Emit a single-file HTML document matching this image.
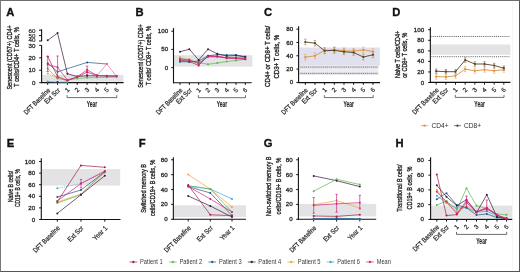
<!DOCTYPE html>
<html><head><meta charset="utf-8"><style>
html,body{margin:0;padding:0;background:#fff;}
body{width:520px;height:272px;overflow:hidden;position:relative;}
.frame{position:absolute;left:0;top:0;width:518px;height:270px;border:1px solid #555;border-top-color:#6e6e6e;border-left-color:#777;}
svg{position:absolute;left:0;top:0;will-change:transform;}
text{font-family:"Liberation Sans",sans-serif;}
</style></head><body>
<svg width="520" height="272" viewBox="0 0 520 272" font-family="Liberation Sans, sans-serif">
<rect x="0" y="0" width="520" height="272" fill="#fff"/>
<text x="6.30" y="15.80" font-size="11.2" text-anchor="start" font-weight="bold" fill="#111" stroke="#111" stroke-width="0.35">A</text>
<text x="0.00" y="0.00" font-size="7.9" text-anchor="middle" font-weight="normal" fill="#262626" textLength="64.3" lengthAdjust="spacingAndGlyphs" transform="translate(12.30,57.45) rotate(-90)" stroke="#262626" stroke-width="0.35">Senescent (CD57+) CD4+</text>
<text x="0.00" y="0.00" font-size="7.9" text-anchor="middle" font-weight="normal" fill="#262626" textLength="59.9" lengthAdjust="spacingAndGlyphs" transform="translate(18.90,56.95) rotate(-90)" stroke="#262626" stroke-width="0.35">T cells/CD4+ T cells, %</text>
<rect x="42.00" y="74.90" width="81.40" height="6.90" fill="#e3e3e6"/>
<line x1="41.60" y1="29.20" x2="41.60" y2="41.20" stroke="#111" stroke-width="1.1" />
<line x1="41.60" y1="45.20" x2="41.60" y2="83.10" stroke="#111" stroke-width="1.1" />
<line x1="41.10" y1="82.60" x2="123.60" y2="82.60" stroke="#111" stroke-width="1.1" />
<line x1="39.00" y1="30.20" x2="41.60" y2="30.20" stroke="#111" stroke-width="1" />
<line x1="39.00" y1="35.60" x2="41.60" y2="35.60" stroke="#111" stroke-width="1" />
<line x1="39.00" y1="41.00" x2="41.60" y2="41.00" stroke="#111" stroke-width="1" />
<line x1="39.20" y1="82.70" x2="41.60" y2="82.70" stroke="#111" stroke-width="1" />
<line x1="39.20" y1="70.25" x2="41.60" y2="70.25" stroke="#111" stroke-width="1" />
<line x1="39.20" y1="57.80" x2="41.60" y2="57.80" stroke="#111" stroke-width="1" />
<line x1="39.20" y1="45.35" x2="41.60" y2="45.35" stroke="#111" stroke-width="1" />
<line x1="47.70" y1="82.60" x2="47.70" y2="84.80" stroke="#111" stroke-width="1" />
<line x1="57.55" y1="82.60" x2="57.55" y2="84.80" stroke="#111" stroke-width="1" />
<line x1="67.40" y1="82.60" x2="67.40" y2="84.80" stroke="#111" stroke-width="1" />
<line x1="77.25" y1="82.60" x2="77.25" y2="84.80" stroke="#111" stroke-width="1" />
<line x1="87.10" y1="82.60" x2="87.10" y2="84.80" stroke="#111" stroke-width="1" />
<line x1="96.95" y1="82.60" x2="96.95" y2="84.80" stroke="#111" stroke-width="1" />
<line x1="106.80" y1="82.60" x2="106.80" y2="84.80" stroke="#111" stroke-width="1" />
<line x1="116.65" y1="82.60" x2="116.65" y2="84.80" stroke="#111" stroke-width="1" />
<text x="35.50" y="84.70" font-size="6.2" text-anchor="end" font-weight="normal" fill="#2a2a2a" stroke="#2a2a2a" stroke-width="0.3">0</text>
<text x="35.50" y="72.25" font-size="6.2" text-anchor="end" font-weight="normal" fill="#2a2a2a" stroke="#2a2a2a" stroke-width="0.3">10</text>
<text x="35.50" y="59.80" font-size="6.2" text-anchor="end" font-weight="normal" fill="#2a2a2a" stroke="#2a2a2a" stroke-width="0.3">20</text>
<text x="35.50" y="47.60" font-size="6.2" text-anchor="end" font-weight="normal" fill="#2a2a2a" stroke="#2a2a2a" stroke-width="0.3">30</text>
<text x="35.50" y="32.60" font-size="6.2" text-anchor="end" font-weight="normal" fill="#2a2a2a" stroke="#2a2a2a" stroke-width="0.2">60</text>
<text x="35.50" y="37.60" font-size="6.2" text-anchor="end" font-weight="normal" fill="#2a2a2a" stroke="#2a2a2a" stroke-width="0.2">50</text>
<text x="35.50" y="42.40" font-size="6.2" text-anchor="end" font-weight="normal" fill="#2a2a2a" stroke="#2a2a2a" stroke-width="0.2">40</text>
<text x="135.40" y="15.80" font-size="11.2" text-anchor="start" font-weight="bold" fill="#111" stroke="#111" stroke-width="0.35">B</text>
<text x="0.00" y="0.00" font-size="7.9" text-anchor="middle" font-weight="normal" fill="#262626" textLength="63.6" lengthAdjust="spacingAndGlyphs" transform="translate(142.60,56.00) rotate(-90)" stroke="#262626" stroke-width="0.35">Senescent (CD57+) CD8+</text>
<text x="0.00" y="0.00" font-size="7.9" text-anchor="middle" font-weight="normal" fill="#262626" textLength="59.4" lengthAdjust="spacingAndGlyphs" transform="translate(151.40,55.60) rotate(-90)" stroke="#262626" stroke-width="0.35">T cells/ CD8+ T cells, %</text>
<rect x="174.10" y="55.20" width="78.30" height="11.40" fill="#e3e3e6"/>
<line x1="173.50" y1="28.10" x2="173.50" y2="83.20" stroke="#111" stroke-width="1.1" />
<line x1="173.00" y1="82.70" x2="251.70" y2="82.70" stroke="#111" stroke-width="1.1" />
<line x1="171.30" y1="67.60" x2="173.50" y2="67.60" stroke="#111" stroke-width="1" />
<line x1="171.30" y1="49.40" x2="173.50" y2="49.40" stroke="#111" stroke-width="1" />
<line x1="171.30" y1="31.20" x2="173.50" y2="31.20" stroke="#111" stroke-width="1" />
<line x1="180.00" y1="82.70" x2="180.00" y2="84.90" stroke="#111" stroke-width="1" />
<line x1="189.33" y1="82.70" x2="189.33" y2="84.90" stroke="#111" stroke-width="1" />
<line x1="198.66" y1="82.70" x2="198.66" y2="84.90" stroke="#111" stroke-width="1" />
<line x1="207.99" y1="82.70" x2="207.99" y2="84.90" stroke="#111" stroke-width="1" />
<line x1="217.32" y1="82.70" x2="217.32" y2="84.90" stroke="#111" stroke-width="1" />
<line x1="226.65" y1="82.70" x2="226.65" y2="84.90" stroke="#111" stroke-width="1" />
<line x1="235.98" y1="82.70" x2="235.98" y2="84.90" stroke="#111" stroke-width="1" />
<line x1="245.31" y1="82.70" x2="245.31" y2="84.90" stroke="#111" stroke-width="1" />
<text x="168.20" y="69.60" font-size="6.2" text-anchor="end" font-weight="normal" fill="#2a2a2a" stroke="#2a2a2a" stroke-width="0.3">0</text>
<text x="168.20" y="51.40" font-size="6.2" text-anchor="end" font-weight="normal" fill="#2a2a2a" stroke="#2a2a2a" stroke-width="0.3">50</text>
<text x="168.20" y="33.20" font-size="6.2" text-anchor="end" font-weight="normal" fill="#2a2a2a" stroke="#2a2a2a" stroke-width="0.3">100</text>
<text x="264.00" y="15.80" font-size="11.2" text-anchor="start" font-weight="bold" fill="#111" stroke="#111" stroke-width="0.35">C</text>
<text x="0.00" y="0.00" font-size="7.9" text-anchor="middle" font-weight="normal" fill="#262626" textLength="61.2" lengthAdjust="spacingAndGlyphs" transform="translate(270.10,56.30) rotate(-90)" stroke="#262626" stroke-width="0.35">CD4+ or CD8+ T cells/</text>
<text x="0.00" y="0.00" font-size="7.9" text-anchor="middle" font-weight="normal" fill="#262626" textLength="43.7" lengthAdjust="spacingAndGlyphs" transform="translate(279.20,56.75) rotate(-90)" stroke="#262626" stroke-width="0.35">CD3+ T cells, %</text>
<rect x="299.30" y="47.50" width="80.50" height="18.30" fill="#e0e0ee"/>
<rect x="299.30" y="65.80" width="79.00" height="9.00" fill="#ececf1"/>
<rect x="299.30" y="66.00" width="79.00" height="2.20" fill="#dedee2"/>
<line x1="300.50" y1="67.10" x2="378.00" y2="67.10" stroke="#666" stroke-width="0.9" stroke-dasharray="0.9 1.0"/>
<rect x="299.30" y="72.30" width="79.00" height="2.20" fill="#dedee2"/>
<line x1="300.50" y1="73.40" x2="378.00" y2="73.40" stroke="#666" stroke-width="0.9" stroke-dasharray="0.9 1.0"/>
<line x1="298.60" y1="26.30" x2="298.60" y2="83.10" stroke="#111" stroke-width="1.1" />
<line x1="298.10" y1="82.60" x2="380.00" y2="82.60" stroke="#111" stroke-width="1.1" />
<line x1="296.40" y1="82.40" x2="298.60" y2="82.40" stroke="#111" stroke-width="1" />
<line x1="296.40" y1="69.10" x2="298.60" y2="69.10" stroke="#111" stroke-width="1" />
<line x1="296.40" y1="55.80" x2="298.60" y2="55.80" stroke="#111" stroke-width="1" />
<line x1="296.40" y1="42.50" x2="298.60" y2="42.50" stroke="#111" stroke-width="1" />
<line x1="296.40" y1="29.20" x2="298.60" y2="29.20" stroke="#111" stroke-width="1" />
<line x1="305.30" y1="82.60" x2="305.30" y2="84.80" stroke="#111" stroke-width="1" />
<line x1="314.97" y1="82.60" x2="314.97" y2="84.80" stroke="#111" stroke-width="1" />
<line x1="324.64" y1="82.60" x2="324.64" y2="84.80" stroke="#111" stroke-width="1" />
<line x1="334.31" y1="82.60" x2="334.31" y2="84.80" stroke="#111" stroke-width="1" />
<line x1="343.98" y1="82.60" x2="343.98" y2="84.80" stroke="#111" stroke-width="1" />
<line x1="353.65" y1="82.60" x2="353.65" y2="84.80" stroke="#111" stroke-width="1" />
<line x1="363.32" y1="82.60" x2="363.32" y2="84.80" stroke="#111" stroke-width="1" />
<line x1="372.99" y1="82.60" x2="372.99" y2="84.80" stroke="#111" stroke-width="1" />
<text x="293.10" y="84.40" font-size="6.2" text-anchor="end" font-weight="normal" fill="#2a2a2a" stroke="#2a2a2a" stroke-width="0.3">0</text>
<text x="293.10" y="71.10" font-size="6.2" text-anchor="end" font-weight="normal" fill="#2a2a2a" stroke="#2a2a2a" stroke-width="0.3">20</text>
<text x="293.10" y="57.80" font-size="6.2" text-anchor="end" font-weight="normal" fill="#2a2a2a" stroke="#2a2a2a" stroke-width="0.3">40</text>
<text x="293.10" y="44.50" font-size="6.2" text-anchor="end" font-weight="normal" fill="#2a2a2a" stroke="#2a2a2a" stroke-width="0.3">60</text>
<text x="293.10" y="31.20" font-size="6.2" text-anchor="end" font-weight="normal" fill="#2a2a2a" stroke="#2a2a2a" stroke-width="0.3">80</text>
<text x="392.30" y="15.80" font-size="11.2" text-anchor="start" font-weight="bold" fill="#111" stroke="#111" stroke-width="0.35">D</text>
<text x="0.00" y="0.00" font-size="7.9" text-anchor="middle" font-weight="normal" fill="#262626" textLength="47.4" lengthAdjust="spacingAndGlyphs" transform="translate(399.70,54.40) rotate(-90)" stroke="#262626" stroke-width="0.35">Naive T cells/CD4+</text>
<text x="0.00" y="0.00" font-size="7.9" text-anchor="middle" font-weight="normal" fill="#262626" textLength="45.0" lengthAdjust="spacingAndGlyphs" transform="translate(407.40,55.30) rotate(-90)" stroke="#262626" stroke-width="0.35">or CD8+ T cells, %</text>
<rect x="430.80" y="44.50" width="79.60" height="10.20" fill="#e3e3e6"/>
<line x1="431.50" y1="36.50" x2="509.80" y2="36.50" stroke="#4a4a4a" stroke-width="0.9" stroke-dasharray="0.9 1.0"/>
<line x1="431.50" y1="56.70" x2="509.80" y2="56.70" stroke="#4a4a4a" stroke-width="0.9" stroke-dasharray="0.9 1.0"/>
<line x1="430.35" y1="27.20" x2="430.35" y2="82.90" stroke="#111" stroke-width="1.1" />
<line x1="429.85" y1="82.40" x2="510.40" y2="82.40" stroke="#111" stroke-width="1.1" />
<line x1="428.15" y1="82.50" x2="430.35" y2="82.50" stroke="#111" stroke-width="1" />
<line x1="428.15" y1="71.95" x2="430.35" y2="71.95" stroke="#111" stroke-width="1" />
<line x1="428.15" y1="61.40" x2="430.35" y2="61.40" stroke="#111" stroke-width="1" />
<line x1="428.15" y1="50.85" x2="430.35" y2="50.85" stroke="#111" stroke-width="1" />
<line x1="428.15" y1="40.30" x2="430.35" y2="40.30" stroke="#111" stroke-width="1" />
<line x1="428.15" y1="29.75" x2="430.35" y2="29.75" stroke="#111" stroke-width="1" />
<line x1="436.20" y1="82.40" x2="436.20" y2="84.60" stroke="#111" stroke-width="1" />
<line x1="445.86" y1="82.40" x2="445.86" y2="84.60" stroke="#111" stroke-width="1" />
<line x1="455.52" y1="82.40" x2="455.52" y2="84.60" stroke="#111" stroke-width="1" />
<line x1="465.18" y1="82.40" x2="465.18" y2="84.60" stroke="#111" stroke-width="1" />
<line x1="474.84" y1="82.40" x2="474.84" y2="84.60" stroke="#111" stroke-width="1" />
<line x1="484.50" y1="82.40" x2="484.50" y2="84.60" stroke="#111" stroke-width="1" />
<line x1="494.16" y1="82.40" x2="494.16" y2="84.60" stroke="#111" stroke-width="1" />
<line x1="503.82" y1="82.40" x2="503.82" y2="84.60" stroke="#111" stroke-width="1" />
<text x="424.20" y="84.50" font-size="6.2" text-anchor="end" font-weight="normal" fill="#2a2a2a" stroke="#2a2a2a" stroke-width="0.3">0</text>
<text x="424.20" y="73.95" font-size="6.2" text-anchor="end" font-weight="normal" fill="#2a2a2a" stroke="#2a2a2a" stroke-width="0.3">20</text>
<text x="424.20" y="63.40" font-size="6.2" text-anchor="end" font-weight="normal" fill="#2a2a2a" stroke="#2a2a2a" stroke-width="0.3">40</text>
<text x="424.20" y="52.85" font-size="6.2" text-anchor="end" font-weight="normal" fill="#2a2a2a" stroke="#2a2a2a" stroke-width="0.3">60</text>
<text x="424.20" y="42.30" font-size="6.2" text-anchor="end" font-weight="normal" fill="#2a2a2a" stroke="#2a2a2a" stroke-width="0.3">80</text>
<text x="424.20" y="31.75" font-size="6.2" text-anchor="end" font-weight="normal" fill="#2a2a2a" stroke="#2a2a2a" stroke-width="0.3">100</text>
<text x="0.00" y="0.00" font-size="6.9" text-anchor="end" font-weight="normal" fill="#2a2a2a" textLength="34.2" lengthAdjust="spacingAndGlyphs" transform="translate(50.70,90.80) rotate(-45)" stroke="#2a2a2a" stroke-width="0.22">DFT Baseline</text>
<text x="0.00" y="0.00" font-size="6.9" text-anchor="end" font-weight="normal" fill="#2a2a2a" textLength="19.2" lengthAdjust="spacingAndGlyphs" transform="translate(60.55,90.80) rotate(-45)" stroke="#2a2a2a" stroke-width="0.22">Ext Scr</text>
<text x="0.00" y="0.00" font-size="6.4" text-anchor="middle" font-weight="normal" fill="#2a2a2a" transform="translate(68.70,91.60) rotate(-45)" stroke="#2a2a2a" stroke-width="0.2">1</text>
<text x="0.00" y="0.00" font-size="6.4" text-anchor="middle" font-weight="normal" fill="#2a2a2a" transform="translate(78.55,91.60) rotate(-45)" stroke="#2a2a2a" stroke-width="0.2">2</text>
<text x="0.00" y="0.00" font-size="6.4" text-anchor="middle" font-weight="normal" fill="#2a2a2a" transform="translate(88.40,91.60) rotate(-45)" stroke="#2a2a2a" stroke-width="0.2">3</text>
<text x="0.00" y="0.00" font-size="6.4" text-anchor="middle" font-weight="normal" fill="#2a2a2a" transform="translate(98.25,91.60) rotate(-45)" stroke="#2a2a2a" stroke-width="0.2">4</text>
<text x="0.00" y="0.00" font-size="6.4" text-anchor="middle" font-weight="normal" fill="#2a2a2a" transform="translate(108.10,91.60) rotate(-45)" stroke="#2a2a2a" stroke-width="0.2">5</text>
<text x="0.00" y="0.00" font-size="6.4" text-anchor="middle" font-weight="normal" fill="#2a2a2a" transform="translate(117.95,91.60) rotate(-45)" stroke="#2a2a2a" stroke-width="0.2">6</text>
<polyline points="67.10,95.10 67.10,97.60 116.85,97.60 116.85,95.10" fill="none" stroke="#4a4a4a" stroke-width="0.8" />
<text x="91.98" y="107.00" font-size="8.4" text-anchor="middle" font-weight="bold" fill="#2a2a2a" textLength="10.6" lengthAdjust="spacingAndGlyphs" stroke="#2a2a2a" stroke-width="0.1">Year</text>
<text x="0.00" y="0.00" font-size="6.9" text-anchor="end" font-weight="normal" fill="#2a2a2a" textLength="34.2" lengthAdjust="spacingAndGlyphs" transform="translate(183.00,90.90) rotate(-45)" stroke="#2a2a2a" stroke-width="0.22">DFT Baseline</text>
<text x="0.00" y="0.00" font-size="6.9" text-anchor="end" font-weight="normal" fill="#2a2a2a" textLength="19.2" lengthAdjust="spacingAndGlyphs" transform="translate(192.33,90.90) rotate(-45)" stroke="#2a2a2a" stroke-width="0.22">Ext Scr</text>
<text x="0.00" y="0.00" font-size="6.4" text-anchor="middle" font-weight="normal" fill="#2a2a2a" transform="translate(199.96,91.70) rotate(-45)" stroke="#2a2a2a" stroke-width="0.2">1</text>
<text x="0.00" y="0.00" font-size="6.4" text-anchor="middle" font-weight="normal" fill="#2a2a2a" transform="translate(209.29,91.70) rotate(-45)" stroke="#2a2a2a" stroke-width="0.2">2</text>
<text x="0.00" y="0.00" font-size="6.4" text-anchor="middle" font-weight="normal" fill="#2a2a2a" transform="translate(218.62,91.70) rotate(-45)" stroke="#2a2a2a" stroke-width="0.2">3</text>
<text x="0.00" y="0.00" font-size="6.4" text-anchor="middle" font-weight="normal" fill="#2a2a2a" transform="translate(227.95,91.70) rotate(-45)" stroke="#2a2a2a" stroke-width="0.2">4</text>
<text x="0.00" y="0.00" font-size="6.4" text-anchor="middle" font-weight="normal" fill="#2a2a2a" transform="translate(237.28,91.70) rotate(-45)" stroke="#2a2a2a" stroke-width="0.2">5</text>
<text x="0.00" y="0.00" font-size="6.4" text-anchor="middle" font-weight="normal" fill="#2a2a2a" transform="translate(246.61,91.70) rotate(-45)" stroke="#2a2a2a" stroke-width="0.2">6</text>
<polyline points="198.36,95.20 198.36,97.70 245.51,97.70 245.51,95.20" fill="none" stroke="#4a4a4a" stroke-width="0.8" />
<text x="221.94" y="107.10" font-size="8.4" text-anchor="middle" font-weight="bold" fill="#2a2a2a" textLength="10.6" lengthAdjust="spacingAndGlyphs" stroke="#2a2a2a" stroke-width="0.1">Year</text>
<text x="0.00" y="0.00" font-size="6.9" text-anchor="end" font-weight="normal" fill="#2a2a2a" textLength="34.2" lengthAdjust="spacingAndGlyphs" transform="translate(308.30,90.80) rotate(-45)" stroke="#2a2a2a" stroke-width="0.22">DFT Baseline</text>
<text x="0.00" y="0.00" font-size="6.9" text-anchor="end" font-weight="normal" fill="#2a2a2a" textLength="19.2" lengthAdjust="spacingAndGlyphs" transform="translate(317.97,90.80) rotate(-45)" stroke="#2a2a2a" stroke-width="0.22">Ext Scr</text>
<text x="0.00" y="0.00" font-size="6.4" text-anchor="middle" font-weight="normal" fill="#2a2a2a" transform="translate(325.94,91.60) rotate(-45)" stroke="#2a2a2a" stroke-width="0.2">1</text>
<text x="0.00" y="0.00" font-size="6.4" text-anchor="middle" font-weight="normal" fill="#2a2a2a" transform="translate(335.61,91.60) rotate(-45)" stroke="#2a2a2a" stroke-width="0.2">2</text>
<text x="0.00" y="0.00" font-size="6.4" text-anchor="middle" font-weight="normal" fill="#2a2a2a" transform="translate(345.28,91.60) rotate(-45)" stroke="#2a2a2a" stroke-width="0.2">3</text>
<text x="0.00" y="0.00" font-size="6.4" text-anchor="middle" font-weight="normal" fill="#2a2a2a" transform="translate(354.95,91.60) rotate(-45)" stroke="#2a2a2a" stroke-width="0.2">4</text>
<text x="0.00" y="0.00" font-size="6.4" text-anchor="middle" font-weight="normal" fill="#2a2a2a" transform="translate(364.62,91.60) rotate(-45)" stroke="#2a2a2a" stroke-width="0.2">5</text>
<text x="0.00" y="0.00" font-size="6.4" text-anchor="middle" font-weight="normal" fill="#2a2a2a" transform="translate(374.29,91.60) rotate(-45)" stroke="#2a2a2a" stroke-width="0.2">6</text>
<polyline points="324.34,95.10 324.34,97.60 373.19,97.60 373.19,95.10" fill="none" stroke="#4a4a4a" stroke-width="0.8" />
<text x="348.76" y="107.00" font-size="8.4" text-anchor="middle" font-weight="bold" fill="#2a2a2a" textLength="10.6" lengthAdjust="spacingAndGlyphs" stroke="#2a2a2a" stroke-width="0.1">Year</text>
<text x="0.00" y="0.00" font-size="6.9" text-anchor="end" font-weight="normal" fill="#2a2a2a" textLength="34.2" lengthAdjust="spacingAndGlyphs" transform="translate(439.20,90.60) rotate(-45)" stroke="#2a2a2a" stroke-width="0.22">DFT Baseline</text>
<text x="0.00" y="0.00" font-size="6.9" text-anchor="end" font-weight="normal" fill="#2a2a2a" textLength="19.2" lengthAdjust="spacingAndGlyphs" transform="translate(448.86,90.60) rotate(-45)" stroke="#2a2a2a" stroke-width="0.22">Ext Scr</text>
<text x="0.00" y="0.00" font-size="6.4" text-anchor="middle" font-weight="normal" fill="#2a2a2a" transform="translate(456.82,91.40) rotate(-45)" stroke="#2a2a2a" stroke-width="0.2">1</text>
<text x="0.00" y="0.00" font-size="6.4" text-anchor="middle" font-weight="normal" fill="#2a2a2a" transform="translate(466.48,91.40) rotate(-45)" stroke="#2a2a2a" stroke-width="0.2">2</text>
<text x="0.00" y="0.00" font-size="6.4" text-anchor="middle" font-weight="normal" fill="#2a2a2a" transform="translate(476.14,91.40) rotate(-45)" stroke="#2a2a2a" stroke-width="0.2">3</text>
<text x="0.00" y="0.00" font-size="6.4" text-anchor="middle" font-weight="normal" fill="#2a2a2a" transform="translate(485.80,91.40) rotate(-45)" stroke="#2a2a2a" stroke-width="0.2">4</text>
<text x="0.00" y="0.00" font-size="6.4" text-anchor="middle" font-weight="normal" fill="#2a2a2a" transform="translate(495.46,91.40) rotate(-45)" stroke="#2a2a2a" stroke-width="0.2">5</text>
<text x="0.00" y="0.00" font-size="6.4" text-anchor="middle" font-weight="normal" fill="#2a2a2a" transform="translate(505.12,91.40) rotate(-45)" stroke="#2a2a2a" stroke-width="0.2">6</text>
<polyline points="455.22,94.90 455.22,97.40 504.02,97.40 504.02,94.90" fill="none" stroke="#4a4a4a" stroke-width="0.8" />
<text x="479.62" y="106.80" font-size="8.4" text-anchor="middle" font-weight="bold" fill="#2a2a2a" textLength="10.6" lengthAdjust="spacingAndGlyphs" stroke="#2a2a2a" stroke-width="0.1">Year</text>
<text x="6.80" y="146.80" font-size="11.2" text-anchor="start" font-weight="bold" fill="#111" stroke="#111" stroke-width="0.35">E</text>
<text x="0.00" y="0.00" font-size="7.9" text-anchor="middle" font-weight="normal" fill="#262626" textLength="31.5" lengthAdjust="spacingAndGlyphs" transform="translate(13.10,186.45) rotate(-90)" stroke="#262626" stroke-width="0.35">Naive B cells/</text>
<text x="0.00" y="0.00" font-size="7.9" text-anchor="middle" font-weight="normal" fill="#262626" textLength="37.9" lengthAdjust="spacingAndGlyphs" transform="translate(20.20,188.05) rotate(-90)" stroke="#262626" stroke-width="0.35">CD19+ B cells, %</text>
<rect x="41.80" y="169.10" width="78.40" height="16.50" fill="#e3e3e6"/>
<line x1="41.30" y1="158.20" x2="41.30" y2="220.00" stroke="#111" stroke-width="1.1" />
<line x1="40.80" y1="219.50" x2="120.50" y2="219.50" stroke="#111" stroke-width="1.1" />
<line x1="39.10" y1="219.50" x2="41.30" y2="219.50" stroke="#111" stroke-width="1" />
<line x1="39.10" y1="207.90" x2="41.30" y2="207.90" stroke="#111" stroke-width="1" />
<line x1="39.10" y1="196.30" x2="41.30" y2="196.30" stroke="#111" stroke-width="1" />
<line x1="39.10" y1="184.70" x2="41.30" y2="184.70" stroke="#111" stroke-width="1" />
<line x1="39.10" y1="173.10" x2="41.30" y2="173.10" stroke="#111" stroke-width="1" />
<line x1="39.10" y1="161.50" x2="41.30" y2="161.50" stroke="#111" stroke-width="1" />
<line x1="57.30" y1="219.50" x2="57.30" y2="221.70" stroke="#111" stroke-width="1" />
<line x1="81.00" y1="219.50" x2="81.00" y2="221.70" stroke="#111" stroke-width="1" />
<line x1="104.80" y1="219.50" x2="104.80" y2="221.70" stroke="#111" stroke-width="1" />
<text x="35.10" y="221.50" font-size="6.2" text-anchor="end" font-weight="normal" fill="#2a2a2a" stroke="#2a2a2a" stroke-width="0.3">0</text>
<text x="35.10" y="209.90" font-size="6.2" text-anchor="end" font-weight="normal" fill="#2a2a2a" stroke="#2a2a2a" stroke-width="0.3">20</text>
<text x="35.10" y="198.30" font-size="6.2" text-anchor="end" font-weight="normal" fill="#2a2a2a" stroke="#2a2a2a" stroke-width="0.3">40</text>
<text x="35.10" y="186.70" font-size="6.2" text-anchor="end" font-weight="normal" fill="#2a2a2a" stroke="#2a2a2a" stroke-width="0.3">60</text>
<text x="35.10" y="175.10" font-size="6.2" text-anchor="end" font-weight="normal" fill="#2a2a2a" stroke="#2a2a2a" stroke-width="0.3">80</text>
<text x="35.10" y="163.50" font-size="6.2" text-anchor="end" font-weight="normal" fill="#2a2a2a" stroke="#2a2a2a" stroke-width="0.3">100</text>
<text x="138.80" y="146.80" font-size="11.2" text-anchor="start" font-weight="bold" fill="#111" stroke="#111" stroke-width="0.35">F</text>
<text x="0.00" y="0.00" font-size="7.9" text-anchor="middle" font-weight="normal" fill="#262626" textLength="48.8" lengthAdjust="spacingAndGlyphs" transform="translate(145.80,188.40) rotate(-90)" stroke="#262626" stroke-width="0.35">Switched memory B</text>
<text x="0.00" y="0.00" font-size="7.9" text-anchor="middle" font-weight="normal" fill="#262626" textLength="56.3" lengthAdjust="spacingAndGlyphs" transform="translate(155.30,187.95) rotate(-90)" stroke="#262626" stroke-width="0.35">cells/CD19+ B cells, %</text>
<rect x="173.90" y="205.30" width="72.10" height="11.70" fill="#e3e3e6"/>
<line x1="173.35" y1="157.30" x2="173.35" y2="219.80" stroke="#111" stroke-width="1.1" />
<line x1="172.85" y1="219.30" x2="246.00" y2="219.30" stroke="#111" stroke-width="1.1" />
<line x1="171.15" y1="219.30" x2="173.35" y2="219.30" stroke="#111" stroke-width="1" />
<line x1="171.15" y1="204.42" x2="173.35" y2="204.42" stroke="#111" stroke-width="1" />
<line x1="171.15" y1="189.54" x2="173.35" y2="189.54" stroke="#111" stroke-width="1" />
<line x1="171.15" y1="174.66" x2="173.35" y2="174.66" stroke="#111" stroke-width="1" />
<line x1="171.15" y1="159.78" x2="173.35" y2="159.78" stroke="#111" stroke-width="1" />
<line x1="188.20" y1="219.30" x2="188.20" y2="221.50" stroke="#111" stroke-width="1" />
<line x1="210.30" y1="219.30" x2="210.30" y2="221.50" stroke="#111" stroke-width="1" />
<line x1="232.00" y1="219.30" x2="232.00" y2="221.50" stroke="#111" stroke-width="1" />
<text x="167.70" y="221.30" font-size="6.2" text-anchor="end" font-weight="normal" fill="#2a2a2a" stroke="#2a2a2a" stroke-width="0.3">0</text>
<text x="167.70" y="206.42" font-size="6.2" text-anchor="end" font-weight="normal" fill="#2a2a2a" stroke="#2a2a2a" stroke-width="0.3">20</text>
<text x="167.70" y="191.54" font-size="6.2" text-anchor="end" font-weight="normal" fill="#2a2a2a" stroke="#2a2a2a" stroke-width="0.3">40</text>
<text x="167.70" y="176.66" font-size="6.2" text-anchor="end" font-weight="normal" fill="#2a2a2a" stroke="#2a2a2a" stroke-width="0.3">60</text>
<text x="167.70" y="161.78" font-size="6.2" text-anchor="end" font-weight="normal" fill="#2a2a2a" stroke="#2a2a2a" stroke-width="0.3">80</text>
<text x="263.70" y="146.80" font-size="11.2" text-anchor="start" font-weight="bold" fill="#111" stroke="#111" stroke-width="0.35">G</text>
<text x="0.00" y="0.00" font-size="7.9" text-anchor="middle" font-weight="normal" fill="#262626" textLength="59.5" lengthAdjust="spacingAndGlyphs" transform="translate(270.90,186.35) rotate(-90)" stroke="#262626" stroke-width="0.35">Non-switched memory B</text>
<text x="0.00" y="0.00" font-size="7.9" text-anchor="middle" font-weight="normal" fill="#262626" textLength="56.7" lengthAdjust="spacingAndGlyphs" transform="translate(280.70,186.05) rotate(-90)" stroke="#262626" stroke-width="0.35">cells/CD19+ B cells, %</text>
<rect x="298.90" y="203.90" width="77.30" height="12.60" fill="#e3e3e6"/>
<line x1="298.40" y1="157.30" x2="298.40" y2="219.80" stroke="#111" stroke-width="1.1" />
<line x1="297.90" y1="219.30" x2="376.20" y2="219.30" stroke="#111" stroke-width="1.1" />
<line x1="296.20" y1="219.30" x2="298.40" y2="219.30" stroke="#111" stroke-width="1" />
<line x1="296.20" y1="204.42" x2="298.40" y2="204.42" stroke="#111" stroke-width="1" />
<line x1="296.20" y1="189.54" x2="298.40" y2="189.54" stroke="#111" stroke-width="1" />
<line x1="296.20" y1="174.66" x2="298.40" y2="174.66" stroke="#111" stroke-width="1" />
<line x1="296.20" y1="159.78" x2="298.40" y2="159.78" stroke="#111" stroke-width="1" />
<line x1="313.70" y1="219.30" x2="313.70" y2="221.50" stroke="#111" stroke-width="1" />
<line x1="336.60" y1="219.30" x2="336.60" y2="221.50" stroke="#111" stroke-width="1" />
<line x1="359.80" y1="219.30" x2="359.80" y2="221.50" stroke="#111" stroke-width="1" />
<text x="292.70" y="221.30" font-size="6.2" text-anchor="end" font-weight="normal" fill="#2a2a2a" stroke="#2a2a2a" stroke-width="0.3">0</text>
<text x="292.70" y="206.42" font-size="6.2" text-anchor="end" font-weight="normal" fill="#2a2a2a" stroke="#2a2a2a" stroke-width="0.3">20</text>
<text x="292.70" y="191.54" font-size="6.2" text-anchor="end" font-weight="normal" fill="#2a2a2a" stroke="#2a2a2a" stroke-width="0.3">40</text>
<text x="292.70" y="176.66" font-size="6.2" text-anchor="end" font-weight="normal" fill="#2a2a2a" stroke="#2a2a2a" stroke-width="0.3">60</text>
<text x="292.70" y="161.78" font-size="6.2" text-anchor="end" font-weight="normal" fill="#2a2a2a" stroke="#2a2a2a" stroke-width="0.3">80</text>
<text x="395.40" y="146.80" font-size="11.2" text-anchor="start" font-weight="bold" fill="#111" stroke="#111" stroke-width="0.35">H</text>
<text x="0.00" y="0.00" font-size="7.9" text-anchor="middle" font-weight="normal" fill="#262626" textLength="47.2" lengthAdjust="spacingAndGlyphs" transform="translate(402.40,188.10) rotate(-90)" stroke="#262626" stroke-width="0.35">Transitional B cells/</text>
<text x="0.00" y="0.00" font-size="7.9" text-anchor="middle" font-weight="normal" fill="#262626" textLength="42.8" lengthAdjust="spacingAndGlyphs" transform="translate(411.70,188.10) rotate(-90)" stroke="#262626" stroke-width="0.35">CD19+ B cells, %</text>
<rect x="431.10" y="205.60" width="81.30" height="12.10" fill="#e3e3e6"/>
<line x1="430.60" y1="157.30" x2="430.60" y2="219.90" stroke="#111" stroke-width="1.1" />
<line x1="430.10" y1="219.40" x2="513.00" y2="219.40" stroke="#111" stroke-width="1.1" />
<line x1="428.40" y1="219.40" x2="430.60" y2="219.40" stroke="#111" stroke-width="1" />
<line x1="428.40" y1="204.65" x2="430.60" y2="204.65" stroke="#111" stroke-width="1" />
<line x1="428.40" y1="189.90" x2="430.60" y2="189.90" stroke="#111" stroke-width="1" />
<line x1="428.40" y1="175.15" x2="430.60" y2="175.15" stroke="#111" stroke-width="1" />
<line x1="428.40" y1="160.40" x2="430.60" y2="160.40" stroke="#111" stroke-width="1" />
<line x1="436.80" y1="219.40" x2="436.80" y2="221.60" stroke="#111" stroke-width="1" />
<line x1="446.50" y1="219.40" x2="446.50" y2="221.60" stroke="#111" stroke-width="1" />
<line x1="456.80" y1="219.40" x2="456.80" y2="221.60" stroke="#111" stroke-width="1" />
<line x1="466.50" y1="219.40" x2="466.50" y2="221.60" stroke="#111" stroke-width="1" />
<line x1="476.50" y1="219.40" x2="476.50" y2="221.60" stroke="#111" stroke-width="1" />
<line x1="486.80" y1="219.40" x2="486.80" y2="221.60" stroke="#111" stroke-width="1" />
<line x1="497.00" y1="219.40" x2="497.00" y2="221.60" stroke="#111" stroke-width="1" />
<line x1="506.50" y1="219.40" x2="506.50" y2="221.60" stroke="#111" stroke-width="1" />
<text x="423.90" y="221.40" font-size="6.2" text-anchor="end" font-weight="normal" fill="#2a2a2a" stroke="#2a2a2a" stroke-width="0.3">0</text>
<text x="423.90" y="206.65" font-size="6.2" text-anchor="end" font-weight="normal" fill="#2a2a2a" stroke="#2a2a2a" stroke-width="0.3">20</text>
<text x="423.90" y="191.90" font-size="6.2" text-anchor="end" font-weight="normal" fill="#2a2a2a" stroke="#2a2a2a" stroke-width="0.3">40</text>
<text x="423.90" y="177.15" font-size="6.2" text-anchor="end" font-weight="normal" fill="#2a2a2a" stroke="#2a2a2a" stroke-width="0.3">60</text>
<text x="423.90" y="162.40" font-size="6.2" text-anchor="end" font-weight="normal" fill="#2a2a2a" stroke="#2a2a2a" stroke-width="0.3">80</text>
<text x="0.00" y="0.00" font-size="6.9" text-anchor="end" font-weight="normal" fill="#2a2a2a" textLength="34.6" lengthAdjust="spacingAndGlyphs" transform="translate(60.30,228.60) rotate(-45)" stroke="#2a2a2a" stroke-width="0.22">DFT Baseline</text>
<text x="0.00" y="0.00" font-size="6.9" text-anchor="end" font-weight="normal" fill="#2a2a2a" textLength="19.4" lengthAdjust="spacingAndGlyphs" transform="translate(84.00,228.60) rotate(-45)" stroke="#2a2a2a" stroke-width="0.22">Ext Scr</text>
<text x="0.00" y="0.00" font-size="6.9" text-anchor="end" font-weight="normal" fill="#2a2a2a" textLength="17.5" lengthAdjust="spacingAndGlyphs" transform="translate(107.80,228.60) rotate(-45)" stroke="#2a2a2a" stroke-width="0.22">Year 1</text>
<text x="0.00" y="0.00" font-size="6.9" text-anchor="end" font-weight="normal" fill="#2a2a2a" textLength="34.6" lengthAdjust="spacingAndGlyphs" transform="translate(191.20,228.40) rotate(-45)" stroke="#2a2a2a" stroke-width="0.22">DFT Baseline</text>
<text x="0.00" y="0.00" font-size="6.9" text-anchor="end" font-weight="normal" fill="#2a2a2a" textLength="19.4" lengthAdjust="spacingAndGlyphs" transform="translate(213.30,228.40) rotate(-45)" stroke="#2a2a2a" stroke-width="0.22">Ext Scr</text>
<text x="0.00" y="0.00" font-size="6.9" text-anchor="end" font-weight="normal" fill="#2a2a2a" textLength="17.5" lengthAdjust="spacingAndGlyphs" transform="translate(235.00,228.40) rotate(-45)" stroke="#2a2a2a" stroke-width="0.22">Year 1</text>
<text x="0.00" y="0.00" font-size="6.9" text-anchor="end" font-weight="normal" fill="#2a2a2a" textLength="34.6" lengthAdjust="spacingAndGlyphs" transform="translate(316.70,228.40) rotate(-45)" stroke="#2a2a2a" stroke-width="0.22">DFT Baseline</text>
<text x="0.00" y="0.00" font-size="6.9" text-anchor="end" font-weight="normal" fill="#2a2a2a" textLength="19.4" lengthAdjust="spacingAndGlyphs" transform="translate(339.60,228.40) rotate(-45)" stroke="#2a2a2a" stroke-width="0.22">Ext Scr</text>
<text x="0.00" y="0.00" font-size="6.9" text-anchor="end" font-weight="normal" fill="#2a2a2a" textLength="17.5" lengthAdjust="spacingAndGlyphs" transform="translate(362.80,228.40) rotate(-45)" stroke="#2a2a2a" stroke-width="0.22">Year 1</text>
<text x="0.00" y="0.00" font-size="6.9" text-anchor="end" font-weight="normal" fill="#2a2a2a" textLength="34.2" lengthAdjust="spacingAndGlyphs" transform="translate(439.80,227.60) rotate(-45)" stroke="#2a2a2a" stroke-width="0.22">DFT Baseline</text>
<text x="0.00" y="0.00" font-size="6.9" text-anchor="end" font-weight="normal" fill="#2a2a2a" textLength="19.2" lengthAdjust="spacingAndGlyphs" transform="translate(449.50,227.60) rotate(-45)" stroke="#2a2a2a" stroke-width="0.22">Ext Scr</text>
<text x="0.00" y="0.00" font-size="6.4" text-anchor="middle" font-weight="normal" fill="#2a2a2a" transform="translate(458.10,228.40) rotate(-45)" stroke="#2a2a2a" stroke-width="0.2">1</text>
<text x="0.00" y="0.00" font-size="6.4" text-anchor="middle" font-weight="normal" fill="#2a2a2a" transform="translate(467.80,228.40) rotate(-45)" stroke="#2a2a2a" stroke-width="0.2">2</text>
<text x="0.00" y="0.00" font-size="6.4" text-anchor="middle" font-weight="normal" fill="#2a2a2a" transform="translate(477.80,228.40) rotate(-45)" stroke="#2a2a2a" stroke-width="0.2">3</text>
<text x="0.00" y="0.00" font-size="6.4" text-anchor="middle" font-weight="normal" fill="#2a2a2a" transform="translate(488.10,228.40) rotate(-45)" stroke="#2a2a2a" stroke-width="0.2">4</text>
<text x="0.00" y="0.00" font-size="6.4" text-anchor="middle" font-weight="normal" fill="#2a2a2a" transform="translate(498.30,228.40) rotate(-45)" stroke="#2a2a2a" stroke-width="0.2">5</text>
<text x="0.00" y="0.00" font-size="6.4" text-anchor="middle" font-weight="normal" fill="#2a2a2a" transform="translate(507.80,228.40) rotate(-45)" stroke="#2a2a2a" stroke-width="0.2">6</text>
<polyline points="456.50,231.90 456.50,234.40 506.70,234.40 506.70,231.90" fill="none" stroke="#4a4a4a" stroke-width="0.8" />
<text x="481.60" y="243.80" font-size="8.4" text-anchor="middle" font-weight="bold" fill="#2a2a2a" textLength="10.6" lengthAdjust="spacingAndGlyphs" stroke="#2a2a2a" stroke-width="0.1">Year</text>
<line x1="129.50" y1="262.00" x2="137.20" y2="262.00" stroke="#a81a45" stroke-width="0.7" />
<circle cx="133.35" cy="262.00" r="1.15" fill="#a81a45"/>
<text x="140.00" y="264.20" font-size="6.8" text-anchor="start" font-weight="normal" fill="#3a3a3a" textLength="22.8" lengthAdjust="spacingAndGlyphs">Patient 1</text>
<line x1="168.95" y1="262.00" x2="176.65" y2="262.00" stroke="#5cb84a" stroke-width="0.7" />
<circle cx="172.80" cy="262.00" r="1.15" fill="#5cb84a"/>
<text x="179.45" y="264.20" font-size="6.8" text-anchor="start" font-weight="normal" fill="#3a3a3a" textLength="22.8" lengthAdjust="spacingAndGlyphs">Patient 2</text>
<line x1="208.40" y1="262.00" x2="216.10" y2="262.00" stroke="#235a80" stroke-width="0.7" />
<circle cx="212.25" cy="262.00" r="1.15" fill="#235a80"/>
<text x="218.90" y="264.20" font-size="6.8" text-anchor="start" font-weight="normal" fill="#3a3a3a" textLength="22.8" lengthAdjust="spacingAndGlyphs">Patient 3</text>
<line x1="247.85" y1="262.00" x2="255.55" y2="262.00" stroke="#3a1540" stroke-width="0.7" />
<circle cx="251.70" cy="262.00" r="1.15" fill="#3a1540"/>
<text x="258.35" y="264.20" font-size="6.8" text-anchor="start" font-weight="normal" fill="#3a3a3a" textLength="22.8" lengthAdjust="spacingAndGlyphs">Patient 4</text>
<line x1="287.30" y1="262.00" x2="295.00" y2="262.00" stroke="#f2a33a" stroke-width="0.7" />
<circle cx="291.15" cy="262.00" r="1.15" fill="#f2a33a"/>
<text x="297.80" y="264.20" font-size="6.8" text-anchor="start" font-weight="normal" fill="#3a3a3a" textLength="22.8" lengthAdjust="spacingAndGlyphs">Patient 5</text>
<line x1="326.75" y1="262.00" x2="334.45" y2="262.00" stroke="#3aa6dc" stroke-width="0.7" />
<circle cx="330.60" cy="262.00" r="1.15" fill="#3aa6dc"/>
<text x="337.25" y="264.20" font-size="6.8" text-anchor="start" font-weight="normal" fill="#3a3a3a" textLength="22.8" lengthAdjust="spacingAndGlyphs">Patient 6</text>
<line x1="366.20" y1="262.00" x2="373.90" y2="262.00" stroke="#d81e7e" stroke-width="0.7" />
<circle cx="370.05" cy="262.00" r="1.15" fill="#d81e7e"/>
<text x="376.70" y="264.20" font-size="6.8" text-anchor="start" font-weight="normal" fill="#3a3a3a" textLength="14.2" lengthAdjust="spacingAndGlyphs">Mean</text>
<line x1="421.00" y1="125.70" x2="428.00" y2="125.70" stroke="#dc923f" stroke-width="0.7" />
<circle cx="424.50" cy="125.70" r="1.15" fill="#dc923f"/>
<text x="431.60" y="127.80" font-size="6.6" text-anchor="start" font-weight="normal" fill="#2a2a2a" textLength="17" lengthAdjust="spacingAndGlyphs">CD4+</text>
<line x1="454.00" y1="125.70" x2="461.00" y2="125.70" stroke="#55422a" stroke-width="0.7" />
<circle cx="457.50" cy="125.70" r="1.15" fill="#55422a"/>
<text x="464.00" y="127.80" font-size="6.6" text-anchor="start" font-weight="normal" fill="#2a2a2a" textLength="17" lengthAdjust="spacingAndGlyphs">CD8+</text>
<polyline points="47.70,81.60 57.55,82.20 67.40,82.20" fill="none" stroke="#3aa6dc" stroke-width="0.7" />
<circle cx="47.70" cy="81.60" r="1.0" fill="#3aa6dc"/>
<circle cx="57.55" cy="82.20" r="1.0" fill="#3aa6dc"/>
<circle cx="67.40" cy="82.20" r="1.0" fill="#3aa6dc"/>
<polyline points="47.70,73.50 57.55,78.00 67.40,81.00" fill="none" stroke="#f2a33a" stroke-width="0.7" stroke-dasharray="1.2 1"/>
<circle cx="47.70" cy="73.50" r="1.0" fill="#f2a33a"/>
<circle cx="57.55" cy="78.00" r="1.0" fill="#f2a33a"/>
<circle cx="67.40" cy="81.00" r="1.0" fill="#f2a33a"/>
<polyline points="47.70,68.50 57.55,78.50 67.40,80.20 77.25,78.50 87.10,77.80 96.95,77.50 106.80,77.20 116.65,77.00" fill="none" stroke="#5cb84a" stroke-width="0.7" />
<circle cx="47.70" cy="68.50" r="1.0" fill="#5cb84a"/>
<circle cx="57.55" cy="78.50" r="1.0" fill="#5cb84a"/>
<circle cx="67.40" cy="80.20" r="1.0" fill="#5cb84a"/>
<circle cx="77.25" cy="78.50" r="1.0" fill="#5cb84a"/>
<circle cx="87.10" cy="77.80" r="1.0" fill="#5cb84a"/>
<circle cx="96.95" cy="77.50" r="1.0" fill="#5cb84a"/>
<circle cx="106.80" cy="77.20" r="1.0" fill="#5cb84a"/>
<circle cx="116.65" cy="77.00" r="1.0" fill="#5cb84a"/>
<polyline points="47.70,63.20 57.55,71.80 87.10,62.40 106.80,64.00" fill="none" stroke="#235a80" stroke-width="0.7" />
<circle cx="47.70" cy="63.20" r="1.0" fill="#235a80"/>
<circle cx="57.55" cy="71.80" r="1.0" fill="#235a80"/>
<circle cx="87.10" cy="62.40" r="1.0" fill="#235a80"/>
<circle cx="106.80" cy="64.00" r="1.0" fill="#235a80"/>
<polyline points="47.70,40.30 57.55,33.10 67.40,73.80 77.25,76.50 87.10,75.80 96.95,75.80 106.80,76.00 116.65,76.10" fill="none" stroke="#3a1540" stroke-width="0.7" />
<circle cx="47.70" cy="40.30" r="1.0" fill="#3a1540"/>
<circle cx="57.55" cy="33.10" r="1.0" fill="#3a1540"/>
<circle cx="67.40" cy="73.80" r="1.0" fill="#3a1540"/>
<circle cx="77.25" cy="76.50" r="1.0" fill="#3a1540"/>
<circle cx="87.10" cy="75.80" r="1.0" fill="#3a1540"/>
<circle cx="96.95" cy="75.80" r="1.0" fill="#3a1540"/>
<circle cx="106.80" cy="76.00" r="1.0" fill="#3a1540"/>
<circle cx="116.65" cy="76.10" r="1.0" fill="#3a1540"/>
<polyline points="96.95,75.60 106.80,64.00 116.65,76.50" fill="none" stroke="#ec6f9f" stroke-width="0.7" />
<circle cx="96.95" cy="75.60" r="1.0" fill="#ec6f9f"/>
<circle cx="106.80" cy="64.00" r="1.0" fill="#ec6f9f"/>
<circle cx="116.65" cy="76.50" r="1.0" fill="#ec6f9f"/>
<polyline points="47.70,56.50 57.55,76.50 67.40,80.50 77.25,77.00 87.10,72.10 96.95,75.60" fill="none" stroke="#a81a45" stroke-width="0.7" />
<circle cx="47.70" cy="56.50" r="1.0" fill="#a81a45"/>
<circle cx="57.55" cy="76.50" r="1.0" fill="#a81a45"/>
<circle cx="67.40" cy="80.50" r="1.0" fill="#a81a45"/>
<circle cx="77.25" cy="77.00" r="1.0" fill="#a81a45"/>
<circle cx="87.10" cy="72.10" r="1.0" fill="#a81a45"/>
<circle cx="96.95" cy="75.60" r="1.0" fill="#a81a45"/>
<polyline points="47.70,64.50 57.55,67.30 67.40,80.00 77.25,76.80 87.10,69.80 96.95,75.40 106.80,75.80 116.65,76.10" fill="none" stroke="#d81e7e" stroke-width="0.7" />
<circle cx="47.70" cy="64.50" r="1.0" fill="#d81e7e"/>
<circle cx="57.55" cy="67.30" r="1.0" fill="#d81e7e"/>
<circle cx="67.40" cy="80.00" r="1.0" fill="#d81e7e"/>
<circle cx="77.25" cy="76.80" r="1.0" fill="#d81e7e"/>
<circle cx="87.10" cy="69.80" r="1.0" fill="#d81e7e"/>
<circle cx="96.95" cy="75.40" r="1.0" fill="#d81e7e"/>
<circle cx="106.80" cy="75.80" r="1.0" fill="#d81e7e"/>
<circle cx="116.65" cy="76.10" r="1.0" fill="#d81e7e"/>
<circle cx="57.55" cy="82.20" r="1.1" fill="#5a1030"/>
<line x1="47.70" y1="56.50" x2="47.70" y2="71.50" stroke="#d81e7e" stroke-width="0.7" />
<line x1="46.50" y1="56.50" x2="48.90" y2="56.50" stroke="#d81e7e" stroke-width="0.7" />
<line x1="46.50" y1="71.50" x2="48.90" y2="71.50" stroke="#d81e7e" stroke-width="0.7" />
<line x1="57.55" y1="56.00" x2="57.55" y2="78.00" stroke="#d81e7e" stroke-width="0.7" />
<line x1="56.35" y1="56.00" x2="58.75" y2="56.00" stroke="#d81e7e" stroke-width="0.7" />
<line x1="56.35" y1="78.00" x2="58.75" y2="78.00" stroke="#d81e7e" stroke-width="0.7" />
<line x1="87.10" y1="66.10" x2="87.10" y2="74.50" stroke="#d81e7e" stroke-width="0.7" />
<line x1="85.90" y1="66.10" x2="88.30" y2="66.10" stroke="#d81e7e" stroke-width="0.7" />
<line x1="85.90" y1="74.50" x2="88.30" y2="74.50" stroke="#d81e7e" stroke-width="0.7" />
<polyline points="180.00,62.00 189.33,60.50 198.66,63.00 207.99,57.00 217.32,57.00 226.65,57.60 235.98,57.50 245.31,58.00" fill="none" stroke="#3aa6dc" stroke-width="0.7" />
<circle cx="180.00" cy="62.00" r="1.0" fill="#3aa6dc"/>
<circle cx="189.33" cy="60.50" r="1.0" fill="#3aa6dc"/>
<circle cx="198.66" cy="63.00" r="1.0" fill="#3aa6dc"/>
<circle cx="207.99" cy="57.00" r="1.0" fill="#3aa6dc"/>
<circle cx="217.32" cy="57.00" r="1.0" fill="#3aa6dc"/>
<circle cx="226.65" cy="57.60" r="1.0" fill="#3aa6dc"/>
<circle cx="235.98" cy="57.50" r="1.0" fill="#3aa6dc"/>
<circle cx="245.31" cy="58.00" r="1.0" fill="#3aa6dc"/>
<polyline points="180.00,57.00 189.33,59.00 198.66,64.00" fill="none" stroke="#f2a33a" stroke-width="0.7" stroke-dasharray="1.2 1"/>
<circle cx="180.00" cy="57.00" r="1.0" fill="#f2a33a"/>
<circle cx="189.33" cy="59.00" r="1.0" fill="#f2a33a"/>
<circle cx="198.66" cy="64.00" r="1.0" fill="#f2a33a"/>
<polyline points="180.00,58.50 189.33,60.00 198.66,62.50 207.99,64.30 217.32,63.00 226.65,61.50 235.98,60.50 245.31,59.20" fill="none" stroke="#5cb84a" stroke-width="0.7" />
<circle cx="180.00" cy="58.50" r="1.0" fill="#5cb84a"/>
<circle cx="189.33" cy="60.00" r="1.0" fill="#5cb84a"/>
<circle cx="198.66" cy="62.50" r="1.0" fill="#5cb84a"/>
<circle cx="207.99" cy="64.30" r="1.0" fill="#5cb84a"/>
<circle cx="217.32" cy="63.00" r="1.0" fill="#5cb84a"/>
<circle cx="226.65" cy="61.50" r="1.0" fill="#5cb84a"/>
<circle cx="235.98" cy="60.50" r="1.0" fill="#5cb84a"/>
<circle cx="245.31" cy="59.20" r="1.0" fill="#5cb84a"/>
<polyline points="180.00,61.50 189.33,62.00 198.66,61.00 207.99,55.80 217.32,54.50 226.65,55.00 235.98,54.90 245.31,56.60" fill="none" stroke="#235a80" stroke-width="0.7" />
<circle cx="180.00" cy="61.50" r="1.0" fill="#235a80"/>
<circle cx="189.33" cy="62.00" r="1.0" fill="#235a80"/>
<circle cx="198.66" cy="61.00" r="1.0" fill="#235a80"/>
<circle cx="207.99" cy="55.80" r="1.0" fill="#235a80"/>
<circle cx="217.32" cy="54.50" r="1.0" fill="#235a80"/>
<circle cx="226.65" cy="55.00" r="1.0" fill="#235a80"/>
<circle cx="235.98" cy="54.90" r="1.0" fill="#235a80"/>
<circle cx="245.31" cy="56.60" r="1.0" fill="#235a80"/>
<polyline points="180.00,51.80 189.33,49.20 198.66,60.00 207.99,49.20 217.32,53.80 226.65,56.00 235.98,55.50 245.31,57.00" fill="none" stroke="#3a1540" stroke-width="0.7" />
<circle cx="180.00" cy="51.80" r="1.0" fill="#3a1540"/>
<circle cx="189.33" cy="49.20" r="1.0" fill="#3a1540"/>
<circle cx="198.66" cy="60.00" r="1.0" fill="#3a1540"/>
<circle cx="207.99" cy="49.20" r="1.0" fill="#3a1540"/>
<circle cx="217.32" cy="53.80" r="1.0" fill="#3a1540"/>
<circle cx="226.65" cy="56.00" r="1.0" fill="#3a1540"/>
<circle cx="235.98" cy="55.50" r="1.0" fill="#3a1540"/>
<circle cx="245.31" cy="57.00" r="1.0" fill="#3a1540"/>
<polyline points="180.00,60.00 189.33,61.50 198.66,65.40 207.99,55.80 217.32,56.20 226.65,58.20 235.98,58.50 245.31,59.20" fill="none" stroke="#a81a45" stroke-width="0.7" />
<circle cx="180.00" cy="60.00" r="1.0" fill="#a81a45"/>
<circle cx="189.33" cy="61.50" r="1.0" fill="#a81a45"/>
<circle cx="198.66" cy="65.40" r="1.0" fill="#a81a45"/>
<circle cx="207.99" cy="55.80" r="1.0" fill="#a81a45"/>
<circle cx="217.32" cy="56.20" r="1.0" fill="#a81a45"/>
<circle cx="226.65" cy="58.20" r="1.0" fill="#a81a45"/>
<circle cx="235.98" cy="58.50" r="1.0" fill="#a81a45"/>
<circle cx="245.31" cy="59.20" r="1.0" fill="#a81a45"/>
<polyline points="180.00,59.00 189.33,60.00 198.66,63.50 207.99,56.50 217.32,56.50 226.65,57.80 235.98,58.00 245.31,58.50" fill="none" stroke="#d81e7e" stroke-width="0.7" />
<circle cx="180.00" cy="59.00" r="1.0" fill="#d81e7e"/>
<circle cx="189.33" cy="60.00" r="1.0" fill="#d81e7e"/>
<circle cx="198.66" cy="63.50" r="1.0" fill="#d81e7e"/>
<circle cx="207.99" cy="56.50" r="1.0" fill="#d81e7e"/>
<circle cx="217.32" cy="56.50" r="1.0" fill="#d81e7e"/>
<circle cx="226.65" cy="57.80" r="1.0" fill="#d81e7e"/>
<circle cx="235.98" cy="58.00" r="1.0" fill="#d81e7e"/>
<circle cx="245.31" cy="58.50" r="1.0" fill="#d81e7e"/>
<line x1="305.30" y1="54.40" x2="305.30" y2="60.00" stroke="#e8b070" stroke-width="0.7" />
<line x1="304.10" y1="54.40" x2="306.50" y2="54.40" stroke="#e8b070" stroke-width="0.7" />
<line x1="304.10" y1="60.00" x2="306.50" y2="60.00" stroke="#e8b070" stroke-width="0.7" />
<line x1="314.97" y1="53.00" x2="314.97" y2="58.60" stroke="#e8b070" stroke-width="0.7" />
<line x1="313.77" y1="53.00" x2="316.17" y2="53.00" stroke="#e8b070" stroke-width="0.7" />
<line x1="313.77" y1="58.60" x2="316.17" y2="58.60" stroke="#e8b070" stroke-width="0.7" />
<line x1="324.64" y1="47.60" x2="324.64" y2="53.20" stroke="#e8b070" stroke-width="0.7" />
<line x1="323.44" y1="47.60" x2="325.84" y2="47.60" stroke="#e8b070" stroke-width="0.7" />
<line x1="323.44" y1="53.20" x2="325.84" y2="53.20" stroke="#e8b070" stroke-width="0.7" />
<line x1="334.31" y1="47.00" x2="334.31" y2="52.60" stroke="#e8b070" stroke-width="0.7" />
<line x1="333.11" y1="47.00" x2="335.51" y2="47.00" stroke="#e8b070" stroke-width="0.7" />
<line x1="333.11" y1="52.60" x2="335.51" y2="52.60" stroke="#e8b070" stroke-width="0.7" />
<line x1="343.98" y1="48.00" x2="343.98" y2="53.60" stroke="#e8b070" stroke-width="0.7" />
<line x1="342.78" y1="48.00" x2="345.18" y2="48.00" stroke="#e8b070" stroke-width="0.7" />
<line x1="342.78" y1="53.60" x2="345.18" y2="53.60" stroke="#e8b070" stroke-width="0.7" />
<line x1="353.65" y1="48.40" x2="353.65" y2="54.00" stroke="#e8b070" stroke-width="0.7" />
<line x1="352.45" y1="48.40" x2="354.85" y2="48.40" stroke="#e8b070" stroke-width="0.7" />
<line x1="352.45" y1="54.00" x2="354.85" y2="54.00" stroke="#e8b070" stroke-width="0.7" />
<line x1="363.32" y1="47.10" x2="363.32" y2="52.70" stroke="#e8b070" stroke-width="0.7" />
<line x1="362.12" y1="47.10" x2="364.52" y2="47.10" stroke="#e8b070" stroke-width="0.7" />
<line x1="362.12" y1="52.70" x2="364.52" y2="52.70" stroke="#e8b070" stroke-width="0.7" />
<line x1="372.99" y1="48.70" x2="372.99" y2="54.30" stroke="#e8b070" stroke-width="0.7" />
<line x1="371.79" y1="48.70" x2="374.19" y2="48.70" stroke="#e8b070" stroke-width="0.7" />
<line x1="371.79" y1="54.30" x2="374.19" y2="54.30" stroke="#e8b070" stroke-width="0.7" />
<line x1="305.30" y1="39.20" x2="305.30" y2="44.80" stroke="#b09060" stroke-width="0.7" />
<line x1="304.10" y1="39.20" x2="306.50" y2="39.20" stroke="#b09060" stroke-width="0.7" />
<line x1="304.10" y1="44.80" x2="306.50" y2="44.80" stroke="#b09060" stroke-width="0.7" />
<line x1="314.97" y1="40.40" x2="314.97" y2="46.00" stroke="#b09060" stroke-width="0.7" />
<line x1="313.77" y1="40.40" x2="316.17" y2="40.40" stroke="#b09060" stroke-width="0.7" />
<line x1="313.77" y1="46.00" x2="316.17" y2="46.00" stroke="#b09060" stroke-width="0.7" />
<line x1="324.64" y1="48.00" x2="324.64" y2="53.60" stroke="#b09060" stroke-width="0.7" />
<line x1="323.44" y1="48.00" x2="325.84" y2="48.00" stroke="#b09060" stroke-width="0.7" />
<line x1="323.44" y1="53.60" x2="325.84" y2="53.60" stroke="#b09060" stroke-width="0.7" />
<line x1="334.31" y1="47.60" x2="334.31" y2="53.20" stroke="#b09060" stroke-width="0.7" />
<line x1="333.11" y1="47.60" x2="335.51" y2="47.60" stroke="#b09060" stroke-width="0.7" />
<line x1="333.11" y1="53.20" x2="335.51" y2="53.20" stroke="#b09060" stroke-width="0.7" />
<line x1="343.98" y1="49.00" x2="343.98" y2="54.60" stroke="#b09060" stroke-width="0.7" />
<line x1="342.78" y1="49.00" x2="345.18" y2="49.00" stroke="#b09060" stroke-width="0.7" />
<line x1="342.78" y1="54.60" x2="345.18" y2="54.60" stroke="#b09060" stroke-width="0.7" />
<line x1="353.65" y1="49.70" x2="353.65" y2="55.30" stroke="#b09060" stroke-width="0.7" />
<line x1="352.45" y1="49.70" x2="354.85" y2="49.70" stroke="#b09060" stroke-width="0.7" />
<line x1="352.45" y1="55.30" x2="354.85" y2="55.30" stroke="#b09060" stroke-width="0.7" />
<line x1="363.32" y1="54.20" x2="363.32" y2="59.80" stroke="#b09060" stroke-width="0.7" />
<line x1="362.12" y1="54.20" x2="364.52" y2="54.20" stroke="#b09060" stroke-width="0.7" />
<line x1="362.12" y1="59.80" x2="364.52" y2="59.80" stroke="#b09060" stroke-width="0.7" />
<line x1="372.99" y1="52.00" x2="372.99" y2="57.60" stroke="#b09060" stroke-width="0.7" />
<line x1="371.79" y1="52.00" x2="374.19" y2="52.00" stroke="#b09060" stroke-width="0.7" />
<line x1="371.79" y1="57.60" x2="374.19" y2="57.60" stroke="#b09060" stroke-width="0.7" />
<polyline points="305.30,57.20 314.97,55.80 324.64,50.40 334.31,49.80 343.98,50.80 353.65,51.20 363.32,49.90 372.99,51.50" fill="none" stroke="#dc923f" stroke-width="0.9" />
<circle cx="305.30" cy="57.20" r="1.1" fill="#dc923f"/>
<circle cx="314.97" cy="55.80" r="1.1" fill="#dc923f"/>
<circle cx="324.64" cy="50.40" r="1.1" fill="#dc923f"/>
<circle cx="334.31" cy="49.80" r="1.1" fill="#dc923f"/>
<circle cx="343.98" cy="50.80" r="1.1" fill="#dc923f"/>
<circle cx="353.65" cy="51.20" r="1.1" fill="#dc923f"/>
<circle cx="363.32" cy="49.90" r="1.1" fill="#dc923f"/>
<circle cx="372.99" cy="51.50" r="1.1" fill="#dc923f"/>
<polyline points="305.30,42.00 314.97,43.20 324.64,50.80 334.31,50.40 343.98,51.80 353.65,52.50 363.32,57.00 372.99,54.80" fill="none" stroke="#55422a" stroke-width="0.9" />
<circle cx="305.30" cy="42.00" r="1.1" fill="#55422a"/>
<circle cx="314.97" cy="43.20" r="1.1" fill="#55422a"/>
<circle cx="324.64" cy="50.80" r="1.1" fill="#55422a"/>
<circle cx="334.31" cy="50.40" r="1.1" fill="#55422a"/>
<circle cx="343.98" cy="51.80" r="1.1" fill="#55422a"/>
<circle cx="353.65" cy="52.50" r="1.1" fill="#55422a"/>
<circle cx="363.32" cy="57.00" r="1.1" fill="#55422a"/>
<circle cx="372.99" cy="54.80" r="1.1" fill="#55422a"/>
<line x1="436.20" y1="69.00" x2="436.20" y2="73.40" stroke="#9a7a50" stroke-width="0.7" />
<line x1="435.00" y1="69.00" x2="437.40" y2="69.00" stroke="#9a7a50" stroke-width="0.7" />
<line x1="435.00" y1="73.40" x2="437.40" y2="73.40" stroke="#9a7a50" stroke-width="0.7" />
<line x1="445.86" y1="69.50" x2="445.86" y2="73.90" stroke="#9a7a50" stroke-width="0.7" />
<line x1="444.66" y1="69.50" x2="447.06" y2="69.50" stroke="#9a7a50" stroke-width="0.7" />
<line x1="444.66" y1="73.90" x2="447.06" y2="73.90" stroke="#9a7a50" stroke-width="0.7" />
<line x1="455.52" y1="69.50" x2="455.52" y2="73.90" stroke="#9a7a50" stroke-width="0.7" />
<line x1="454.32" y1="69.50" x2="456.72" y2="69.50" stroke="#9a7a50" stroke-width="0.7" />
<line x1="454.32" y1="73.90" x2="456.72" y2="73.90" stroke="#9a7a50" stroke-width="0.7" />
<line x1="465.18" y1="57.80" x2="465.18" y2="62.20" stroke="#9a7a50" stroke-width="0.7" />
<line x1="463.98" y1="57.80" x2="466.38" y2="57.80" stroke="#9a7a50" stroke-width="0.7" />
<line x1="463.98" y1="62.20" x2="466.38" y2="62.20" stroke="#9a7a50" stroke-width="0.7" />
<line x1="474.84" y1="61.80" x2="474.84" y2="66.20" stroke="#9a7a50" stroke-width="0.7" />
<line x1="473.64" y1="61.80" x2="476.04" y2="61.80" stroke="#9a7a50" stroke-width="0.7" />
<line x1="473.64" y1="66.20" x2="476.04" y2="66.20" stroke="#9a7a50" stroke-width="0.7" />
<line x1="484.50" y1="61.80" x2="484.50" y2="66.20" stroke="#9a7a50" stroke-width="0.7" />
<line x1="483.30" y1="61.80" x2="485.70" y2="61.80" stroke="#9a7a50" stroke-width="0.7" />
<line x1="483.30" y1="66.20" x2="485.70" y2="66.20" stroke="#9a7a50" stroke-width="0.7" />
<line x1="494.16" y1="63.30" x2="494.16" y2="67.70" stroke="#9a7a50" stroke-width="0.7" />
<line x1="492.96" y1="63.30" x2="495.36" y2="63.30" stroke="#9a7a50" stroke-width="0.7" />
<line x1="492.96" y1="67.70" x2="495.36" y2="67.70" stroke="#9a7a50" stroke-width="0.7" />
<line x1="503.82" y1="66.00" x2="503.82" y2="70.40" stroke="#9a7a50" stroke-width="0.7" />
<line x1="502.62" y1="66.00" x2="505.02" y2="66.00" stroke="#9a7a50" stroke-width="0.7" />
<line x1="502.62" y1="70.40" x2="505.02" y2="70.40" stroke="#9a7a50" stroke-width="0.7" />
<line x1="436.20" y1="74.10" x2="436.20" y2="79.10" stroke="#e8b070" stroke-width="0.7" />
<line x1="435.00" y1="74.10" x2="437.40" y2="74.10" stroke="#e8b070" stroke-width="0.7" />
<line x1="435.00" y1="79.10" x2="437.40" y2="79.10" stroke="#e8b070" stroke-width="0.7" />
<line x1="445.86" y1="74.40" x2="445.86" y2="79.40" stroke="#e8b070" stroke-width="0.7" />
<line x1="444.66" y1="74.40" x2="447.06" y2="74.40" stroke="#e8b070" stroke-width="0.7" />
<line x1="444.66" y1="79.40" x2="447.06" y2="79.40" stroke="#e8b070" stroke-width="0.7" />
<line x1="455.52" y1="73.30" x2="455.52" y2="78.30" stroke="#e8b070" stroke-width="0.7" />
<line x1="454.32" y1="73.30" x2="456.72" y2="73.30" stroke="#e8b070" stroke-width="0.7" />
<line x1="454.32" y1="78.30" x2="456.72" y2="78.30" stroke="#e8b070" stroke-width="0.7" />
<line x1="465.18" y1="66.70" x2="465.18" y2="71.70" stroke="#e8b070" stroke-width="0.7" />
<line x1="463.98" y1="66.70" x2="466.38" y2="66.70" stroke="#e8b070" stroke-width="0.7" />
<line x1="463.98" y1="71.70" x2="466.38" y2="71.70" stroke="#e8b070" stroke-width="0.7" />
<line x1="474.84" y1="68.30" x2="474.84" y2="73.30" stroke="#e8b070" stroke-width="0.7" />
<line x1="473.64" y1="68.30" x2="476.04" y2="68.30" stroke="#e8b070" stroke-width="0.7" />
<line x1="473.64" y1="73.30" x2="476.04" y2="73.30" stroke="#e8b070" stroke-width="0.7" />
<line x1="484.50" y1="67.20" x2="484.50" y2="72.20" stroke="#e8b070" stroke-width="0.7" />
<line x1="483.30" y1="67.20" x2="485.70" y2="67.20" stroke="#e8b070" stroke-width="0.7" />
<line x1="483.30" y1="72.20" x2="485.70" y2="72.20" stroke="#e8b070" stroke-width="0.7" />
<line x1="494.16" y1="68.30" x2="494.16" y2="73.30" stroke="#e8b070" stroke-width="0.7" />
<line x1="492.96" y1="68.30" x2="495.36" y2="68.30" stroke="#e8b070" stroke-width="0.7" />
<line x1="492.96" y1="73.30" x2="495.36" y2="73.30" stroke="#e8b070" stroke-width="0.7" />
<line x1="503.82" y1="67.20" x2="503.82" y2="72.20" stroke="#e8b070" stroke-width="0.7" />
<line x1="502.62" y1="67.20" x2="505.02" y2="67.20" stroke="#e8b070" stroke-width="0.7" />
<line x1="502.62" y1="72.20" x2="505.02" y2="72.20" stroke="#e8b070" stroke-width="0.7" />
<polyline points="436.20,76.60 445.86,76.90 455.52,75.80 465.18,69.20 474.84,70.80 484.50,69.70 494.16,70.80 503.82,69.70" fill="none" stroke="#dc923f" stroke-width="0.9" />
<circle cx="436.20" cy="76.60" r="1.1" fill="#dc923f"/>
<circle cx="445.86" cy="76.90" r="1.1" fill="#dc923f"/>
<circle cx="455.52" cy="75.80" r="1.1" fill="#dc923f"/>
<circle cx="465.18" cy="69.20" r="1.1" fill="#dc923f"/>
<circle cx="474.84" cy="70.80" r="1.1" fill="#dc923f"/>
<circle cx="484.50" cy="69.70" r="1.1" fill="#dc923f"/>
<circle cx="494.16" cy="70.80" r="1.1" fill="#dc923f"/>
<circle cx="503.82" cy="69.70" r="1.1" fill="#dc923f"/>
<polyline points="436.20,71.20 445.86,71.70 455.52,71.70 465.18,60.00 474.84,64.00 484.50,64.00 494.16,65.50 503.82,68.20" fill="none" stroke="#55422a" stroke-width="0.9" />
<circle cx="436.20" cy="71.20" r="1.1" fill="#55422a"/>
<circle cx="445.86" cy="71.70" r="1.1" fill="#55422a"/>
<circle cx="455.52" cy="71.70" r="1.1" fill="#55422a"/>
<circle cx="465.18" cy="60.00" r="1.1" fill="#55422a"/>
<circle cx="474.84" cy="64.00" r="1.1" fill="#55422a"/>
<circle cx="484.50" cy="64.00" r="1.1" fill="#55422a"/>
<circle cx="494.16" cy="65.50" r="1.1" fill="#55422a"/>
<circle cx="503.82" cy="68.20" r="1.1" fill="#55422a"/>
<polyline points="57.30,188.30 81.00,183.50 104.80,172.00" fill="none" stroke="#3aa6dc" stroke-width="0.7" stroke-dasharray="1.2 1"/>
<circle cx="57.30" cy="188.30" r="1.0" fill="#3aa6dc"/>
<circle cx="81.00" cy="183.50" r="1.0" fill="#3aa6dc"/>
<circle cx="104.80" cy="172.00" r="1.0" fill="#3aa6dc"/>
<polyline points="57.30,202.00 81.00,194.00 104.80,172.50" fill="none" stroke="#f2a33a" stroke-width="0.7" />
<circle cx="57.30" cy="202.00" r="1.0" fill="#f2a33a"/>
<circle cx="81.00" cy="194.00" r="1.0" fill="#f2a33a"/>
<circle cx="104.80" cy="172.50" r="1.0" fill="#f2a33a"/>
<polyline points="57.30,203.00 81.00,194.70 104.80,171.00" fill="none" stroke="#5cb84a" stroke-width="0.7" />
<circle cx="57.30" cy="203.00" r="1.0" fill="#5cb84a"/>
<circle cx="81.00" cy="194.70" r="1.0" fill="#5cb84a"/>
<circle cx="104.80" cy="171.00" r="1.0" fill="#5cb84a"/>
<polyline points="57.30,197.00 81.00,190.00 104.80,171.80" fill="none" stroke="#235a80" stroke-width="0.7" />
<circle cx="57.30" cy="197.00" r="1.0" fill="#235a80"/>
<circle cx="81.00" cy="190.00" r="1.0" fill="#235a80"/>
<circle cx="104.80" cy="171.80" r="1.0" fill="#235a80"/>
<polyline points="57.30,213.40 81.00,194.70 104.80,175.70" fill="none" stroke="#3a1540" stroke-width="0.7" />
<circle cx="57.30" cy="213.40" r="1.0" fill="#3a1540"/>
<circle cx="81.00" cy="194.70" r="1.0" fill="#3a1540"/>
<circle cx="104.80" cy="175.70" r="1.0" fill="#3a1540"/>
<polyline points="57.30,201.70 81.00,165.40 104.80,167.30" fill="none" stroke="#a81a45" stroke-width="0.7" />
<circle cx="57.30" cy="201.70" r="1.0" fill="#a81a45"/>
<circle cx="81.00" cy="165.40" r="1.0" fill="#a81a45"/>
<circle cx="104.80" cy="167.30" r="1.0" fill="#a81a45"/>
<polyline points="57.30,201.00 81.00,183.50 104.80,171.00" fill="none" stroke="#d81e7e" stroke-width="0.7" />
<circle cx="57.30" cy="201.00" r="1.0" fill="#d81e7e"/>
<circle cx="81.00" cy="183.50" r="1.0" fill="#d81e7e"/>
<circle cx="104.80" cy="171.00" r="1.0" fill="#d81e7e"/>
<line x1="81.00" y1="179.50" x2="81.00" y2="188.00" stroke="#d81e7e" stroke-width="0.7" />
<line x1="79.80" y1="179.50" x2="82.20" y2="179.50" stroke="#d81e7e" stroke-width="0.7" />
<line x1="79.80" y1="188.00" x2="82.20" y2="188.00" stroke="#d81e7e" stroke-width="0.7" />
<polyline points="188.20,174.60 210.30,189.00 232.00,207.00" fill="none" stroke="#f2a33a" stroke-width="0.7" />
<circle cx="188.20" cy="174.60" r="1.0" fill="#f2a33a"/>
<circle cx="210.30" cy="189.00" r="1.0" fill="#f2a33a"/>
<circle cx="232.00" cy="207.00" r="1.0" fill="#f2a33a"/>
<polyline points="188.20,185.70 210.30,189.00 232.00,199.00" fill="none" stroke="#3aa6dc" stroke-width="0.7" />
<circle cx="188.20" cy="185.70" r="1.0" fill="#3aa6dc"/>
<circle cx="210.30" cy="189.00" r="1.0" fill="#3aa6dc"/>
<circle cx="232.00" cy="199.00" r="1.0" fill="#3aa6dc"/>
<polyline points="188.20,186.00 210.30,189.00 232.00,212.00" fill="none" stroke="#5cb84a" stroke-width="0.7" />
<circle cx="188.20" cy="186.00" r="1.0" fill="#5cb84a"/>
<circle cx="210.30" cy="189.00" r="1.0" fill="#5cb84a"/>
<circle cx="232.00" cy="212.00" r="1.0" fill="#5cb84a"/>
<polyline points="188.20,186.50 210.30,193.00 232.00,215.60" fill="none" stroke="#235a80" stroke-width="0.7" />
<circle cx="188.20" cy="186.50" r="1.0" fill="#235a80"/>
<circle cx="210.30" cy="193.00" r="1.0" fill="#235a80"/>
<circle cx="232.00" cy="215.60" r="1.0" fill="#235a80"/>
<polyline points="188.20,196.00 210.30,206.00 232.00,217.00" fill="none" stroke="#3a1540" stroke-width="0.7" />
<circle cx="188.20" cy="196.00" r="1.0" fill="#3a1540"/>
<circle cx="210.30" cy="206.00" r="1.0" fill="#3a1540"/>
<circle cx="232.00" cy="217.00" r="1.0" fill="#3a1540"/>
<polyline points="188.20,185.00 210.30,214.80 232.00,215.60" fill="none" stroke="#a81a45" stroke-width="0.7" />
<circle cx="188.20" cy="185.00" r="1.0" fill="#a81a45"/>
<circle cx="210.30" cy="214.80" r="1.0" fill="#a81a45"/>
<circle cx="232.00" cy="215.60" r="1.0" fill="#a81a45"/>
<polyline points="188.20,186.50 210.30,199.00 232.00,212.00" fill="none" stroke="#d81e7e" stroke-width="0.7" />
<circle cx="188.20" cy="186.50" r="1.0" fill="#d81e7e"/>
<circle cx="210.30" cy="199.00" r="1.0" fill="#d81e7e"/>
<circle cx="232.00" cy="212.00" r="1.0" fill="#d81e7e"/>
<polyline points="313.70,219.00 336.60,218.50 359.80,219.20" fill="none" stroke="#3aa6dc" stroke-width="0.7" />
<circle cx="313.70" cy="219.00" r="1.0" fill="#3aa6dc"/>
<circle cx="336.60" cy="218.50" r="1.0" fill="#3aa6dc"/>
<circle cx="359.80" cy="219.20" r="1.0" fill="#3aa6dc"/>
<polyline points="313.70,218.60 336.60,218.20 359.80,218.80" fill="none" stroke="#235a80" stroke-width="0.7" />
<circle cx="313.70" cy="218.60" r="1.0" fill="#235a80"/>
<circle cx="336.60" cy="218.20" r="1.0" fill="#235a80"/>
<circle cx="359.80" cy="218.80" r="1.0" fill="#235a80"/>
<polyline points="313.70,175.90 336.60,180.70 359.80,186.60" fill="none" stroke="#3a1540" stroke-width="0.7" />
<circle cx="313.70" cy="175.90" r="1.0" fill="#3a1540"/>
<circle cx="336.60" cy="180.70" r="1.0" fill="#3a1540"/>
<circle cx="359.80" cy="186.60" r="1.0" fill="#3a1540"/>
<polyline points="313.70,191.20 336.60,179.30 359.80,184.50" fill="none" stroke="#5cb84a" stroke-width="0.7" />
<circle cx="313.70" cy="191.20" r="1.0" fill="#5cb84a"/>
<circle cx="336.60" cy="179.30" r="1.0" fill="#5cb84a"/>
<circle cx="359.80" cy="184.50" r="1.0" fill="#5cb84a"/>
<polyline points="313.70,204.80 336.60,200.60 359.80,208.00" fill="none" stroke="#f2a33a" stroke-width="0.7" />
<circle cx="313.70" cy="204.80" r="1.0" fill="#f2a33a"/>
<circle cx="336.60" cy="200.60" r="1.0" fill="#f2a33a"/>
<circle cx="359.80" cy="208.00" r="1.0" fill="#f2a33a"/>
<polyline points="313.70,216.00 336.60,216.40 359.80,214.70" fill="none" stroke="#a81a45" stroke-width="0.7" />
<circle cx="313.70" cy="216.00" r="1.0" fill="#a81a45"/>
<circle cx="336.60" cy="216.40" r="1.0" fill="#a81a45"/>
<circle cx="359.80" cy="214.70" r="1.0" fill="#a81a45"/>
<polyline points="313.70,205.30 336.60,203.80 359.80,202.70" fill="none" stroke="#d81e7e" stroke-width="0.7" />
<circle cx="313.70" cy="205.30" r="1.0" fill="#d81e7e"/>
<circle cx="336.60" cy="203.80" r="1.0" fill="#d81e7e"/>
<circle cx="359.80" cy="202.70" r="1.0" fill="#d81e7e"/>
<line x1="313.70" y1="197.50" x2="313.70" y2="213.20" stroke="#d81e7e" stroke-width="0.7" />
<line x1="312.50" y1="197.50" x2="314.90" y2="197.50" stroke="#d81e7e" stroke-width="0.7" />
<line x1="312.50" y1="213.20" x2="314.90" y2="213.20" stroke="#d81e7e" stroke-width="0.7" />
<line x1="336.60" y1="194.40" x2="336.60" y2="212.20" stroke="#d81e7e" stroke-width="0.7" />
<line x1="335.40" y1="194.40" x2="337.80" y2="194.40" stroke="#d81e7e" stroke-width="0.7" />
<line x1="335.40" y1="212.20" x2="337.80" y2="212.20" stroke="#d81e7e" stroke-width="0.7" />
<line x1="359.80" y1="195.40" x2="359.80" y2="209.00" stroke="#d81e7e" stroke-width="0.7" />
<line x1="358.60" y1="195.40" x2="361.00" y2="195.40" stroke="#d81e7e" stroke-width="0.7" />
<line x1="358.60" y1="209.00" x2="361.00" y2="209.00" stroke="#d81e7e" stroke-width="0.7" />
<polyline points="436.80,195.80 446.50,203.00 456.80,208.00 466.50,207.70 476.50,212.00 486.80,211.30 497.00,216.00 506.50,218.00" fill="none" stroke="#3aa6dc" stroke-width="0.7" />
<circle cx="436.80" cy="195.80" r="1.0" fill="#3aa6dc"/>
<circle cx="446.50" cy="203.00" r="1.0" fill="#3aa6dc"/>
<circle cx="456.80" cy="208.00" r="1.0" fill="#3aa6dc"/>
<circle cx="466.50" cy="207.70" r="1.0" fill="#3aa6dc"/>
<circle cx="476.50" cy="212.00" r="1.0" fill="#3aa6dc"/>
<circle cx="486.80" cy="211.30" r="1.0" fill="#3aa6dc"/>
<circle cx="497.00" cy="216.00" r="1.0" fill="#3aa6dc"/>
<circle cx="506.50" cy="218.00" r="1.0" fill="#3aa6dc"/>
<polyline points="436.80,190.00 446.50,203.00 456.80,212.00 466.50,206.00 476.50,212.00 486.80,208.00 497.00,215.00 506.50,218.00" fill="none" stroke="#f2a33a" stroke-width="0.7" />
<circle cx="436.80" cy="190.00" r="1.0" fill="#f2a33a"/>
<circle cx="446.50" cy="203.00" r="1.0" fill="#f2a33a"/>
<circle cx="456.80" cy="212.00" r="1.0" fill="#f2a33a"/>
<circle cx="466.50" cy="206.00" r="1.0" fill="#f2a33a"/>
<circle cx="476.50" cy="212.00" r="1.0" fill="#f2a33a"/>
<circle cx="486.80" cy="208.00" r="1.0" fill="#f2a33a"/>
<circle cx="497.00" cy="215.00" r="1.0" fill="#f2a33a"/>
<circle cx="506.50" cy="218.00" r="1.0" fill="#f2a33a"/>
<polyline points="436.80,205.10 446.50,201.00 456.80,209.70 466.50,188.20 476.50,205.70 486.80,208.50 497.00,214.00 506.50,214.80" fill="none" stroke="#5cb84a" stroke-width="0.7" />
<circle cx="436.80" cy="205.10" r="1.0" fill="#5cb84a"/>
<circle cx="446.50" cy="201.00" r="1.0" fill="#5cb84a"/>
<circle cx="456.80" cy="209.70" r="1.0" fill="#5cb84a"/>
<circle cx="466.50" cy="188.20" r="1.0" fill="#5cb84a"/>
<circle cx="476.50" cy="205.70" r="1.0" fill="#5cb84a"/>
<circle cx="486.80" cy="208.50" r="1.0" fill="#5cb84a"/>
<circle cx="497.00" cy="214.00" r="1.0" fill="#5cb84a"/>
<circle cx="506.50" cy="214.80" r="1.0" fill="#5cb84a"/>
<polyline points="436.80,199.30 446.50,193.20 456.80,205.00 466.50,207.70 476.50,215.00 486.80,214.00 497.00,217.60 506.50,218.50" fill="none" stroke="#235a80" stroke-width="0.7" />
<circle cx="436.80" cy="199.30" r="1.0" fill="#235a80"/>
<circle cx="446.50" cy="193.20" r="1.0" fill="#235a80"/>
<circle cx="456.80" cy="205.00" r="1.0" fill="#235a80"/>
<circle cx="466.50" cy="207.70" r="1.0" fill="#235a80"/>
<circle cx="476.50" cy="215.00" r="1.0" fill="#235a80"/>
<circle cx="486.80" cy="214.00" r="1.0" fill="#235a80"/>
<circle cx="497.00" cy="217.60" r="1.0" fill="#235a80"/>
<circle cx="506.50" cy="218.50" r="1.0" fill="#235a80"/>
<polyline points="436.80,185.30 446.50,196.80 456.80,205.70 466.50,199.70 476.50,212.60 486.80,194.80 497.00,217.00 506.50,218.60" fill="none" stroke="#3a1540" stroke-width="0.7" />
<circle cx="436.80" cy="185.30" r="1.0" fill="#3a1540"/>
<circle cx="446.50" cy="196.80" r="1.0" fill="#3a1540"/>
<circle cx="456.80" cy="205.70" r="1.0" fill="#3a1540"/>
<circle cx="466.50" cy="199.70" r="1.0" fill="#3a1540"/>
<circle cx="476.50" cy="212.60" r="1.0" fill="#3a1540"/>
<circle cx="486.80" cy="194.80" r="1.0" fill="#3a1540"/>
<circle cx="497.00" cy="217.00" r="1.0" fill="#3a1540"/>
<circle cx="506.50" cy="218.60" r="1.0" fill="#3a1540"/>
<polyline points="436.80,174.50 446.50,215.60 456.80,214.60 466.50,202.50 476.50,211.80 486.80,208.80 497.00,215.00 506.50,219.00" fill="none" stroke="#a81a45" stroke-width="0.7" />
<circle cx="436.80" cy="174.50" r="1.0" fill="#a81a45"/>
<circle cx="446.50" cy="215.60" r="1.0" fill="#a81a45"/>
<circle cx="456.80" cy="214.60" r="1.0" fill="#a81a45"/>
<circle cx="466.50" cy="202.50" r="1.0" fill="#a81a45"/>
<circle cx="476.50" cy="211.80" r="1.0" fill="#a81a45"/>
<circle cx="486.80" cy="208.80" r="1.0" fill="#a81a45"/>
<circle cx="497.00" cy="215.00" r="1.0" fill="#a81a45"/>
<circle cx="506.50" cy="219.00" r="1.0" fill="#a81a45"/>
<polyline points="436.80,191.80 446.50,201.70 456.80,213.60 466.50,200.70 476.50,211.70 486.80,207.70 497.00,215.00 506.50,219.00" fill="none" stroke="#d81e7e" stroke-width="0.7" />
<circle cx="436.80" cy="191.80" r="1.0" fill="#d81e7e"/>
<circle cx="446.50" cy="201.70" r="1.0" fill="#d81e7e"/>
<circle cx="456.80" cy="213.60" r="1.0" fill="#d81e7e"/>
<circle cx="466.50" cy="200.70" r="1.0" fill="#d81e7e"/>
<circle cx="476.50" cy="211.70" r="1.0" fill="#d81e7e"/>
<circle cx="486.80" cy="207.70" r="1.0" fill="#d81e7e"/>
<circle cx="497.00" cy="215.00" r="1.0" fill="#d81e7e"/>
<circle cx="506.50" cy="219.00" r="1.0" fill="#d81e7e"/>
<line x1="466.50" y1="196.00" x2="466.50" y2="207.00" stroke="#d81e7e" stroke-width="0.7" />
<line x1="465.30" y1="196.00" x2="467.70" y2="196.00" stroke="#d81e7e" stroke-width="0.7" />
<line x1="465.30" y1="207.00" x2="467.70" y2="207.00" stroke="#d81e7e" stroke-width="0.7" />
<line x1="486.80" y1="200.00" x2="486.80" y2="211.00" stroke="#d81e7e" stroke-width="0.7" />
<line x1="485.60" y1="200.00" x2="488.00" y2="200.00" stroke="#d81e7e" stroke-width="0.7" />
<line x1="485.60" y1="211.00" x2="488.00" y2="211.00" stroke="#d81e7e" stroke-width="0.7" />
<line x1="512.50" y1="2.00" x2="512.50" y2="270.00" stroke="#f3f3f3" stroke-width="0.8" />
</svg>
<div class="frame"></div>
</body></html>
